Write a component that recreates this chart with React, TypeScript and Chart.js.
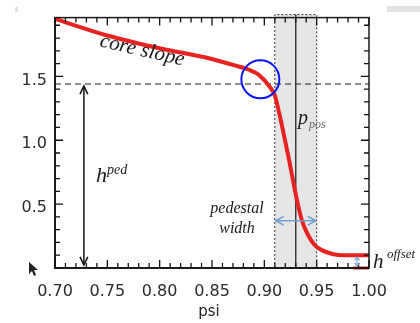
import React, { useEffect, useRef } from 'react';
import { Chart, registerables } from 'chart.js';

Chart.register(...registerables);

// ---- data ----
const psi = [0.700, 0.750, 0.800, 0.848, 0.870, 0.886, 0.895, 0.905, 0.910, 0.914, 0.919, 0.924, 0.928, 0.932, 0.936, 0.941, 0.948, 0.955, 0.965, 0.976, 1.000];
const height = [1.95, 1.82, 1.72, 1.64, 1.59, 1.55, 1.51, 1.42, 1.35, 1.22, 1.03, 0.83, 0.66, 0.50, 0.37, 0.27, 0.18, 0.14, 0.11, 0.10, 0.10];
const xTicks = [0.70, 0.75, 0.80, 0.85, 0.90, 0.95, 1.00];
const yTicks = [0.5, 1.0, 1.5];
const xMinorTicks = [0.70, 0.71, 0.72, 0.73, 0.74, 0.75, 0.76, 0.77, 0.78, 0.79, 0.80, 0.81, 0.82, 0.83, 0.84, 0.85, 0.86, 0.87, 0.88, 0.89, 0.90, 0.91, 0.92, 0.93, 0.94, 0.95, 0.96, 0.97, 0.98, 0.99, 1.00];
const yMinorTicks = [0.1, 0.2, 0.3, 0.4, 0.5, 0.6, 0.7, 0.8, 0.9, 1.0, 1.1, 1.2, 1.3, 1.4, 1.5, 1.6, 1.7, 1.8, 1.9];
const offsetBaseX = [0.985, 1.0];
const offsetBaseY = [0, 0];

const pedStart = 0.91;
const pedEnd = 0.95;
const pedPos = 0.93;
const pedTop = 1.44;
const hpedX = 0.7276;
const hOffset = 0.1;
const hOffsetX = 0.9886;
const widthArrowY = 0.37;
const kneeX = 0.8962;
const kneeY = 1.477;

const SERIF = "'Liberation Serif', 'DejaVu Serif', serif";
const SANS = "'DejaVu Sans', sans-serif";

function vHead(ctx: CanvasRenderingContext2D, x: number, y: number, ang: number, len: number, spread: number) {
  ctx.beginPath();
  ctx.moveTo(x + Math.cos(ang + spread) * len, y + Math.sin(ang + spread) * len);
  ctx.lineTo(x, y);
  ctx.lineTo(x + Math.cos(ang - spread) * len, y + Math.sin(ang - spread) * len);
  ctx.stroke();
}

function dblArrow(ctx: CanvasRenderingContext2D, x1: number, y1: number, x2: number, y2: number, len: number, spread: number) {
  ctx.beginPath();
  ctx.moveTo(x1, y1);
  ctx.lineTo(x2, y2);
  ctx.stroke();
  const a = Math.atan2(y2 - y1, x2 - x1);
  vHead(ctx, x1, y1, a, len, spread);
  vHead(ctx, x2, y2, a + Math.PI, len, spread);
}

const annotPlugin = {
  id: 'annot',
  beforeDatasetsDraw(chart: any) {
    const ctx = chart.ctx as CanvasRenderingContext2D;
    const { top, bottom } = chart.chartArea;
    const xs = chart.scales.x;
    const ys = chart.scales.y;
    const x1 = xs.getPixelForValue(pedStart);
    const x2 = xs.getPixelForValue(pedEnd);
    ctx.save();
    ctx.fillStyle = '#e6e6e6';
    ctx.fillRect(x1, top - 3, x2 - x1, bottom - top + 3);
    ctx.strokeStyle = '#333';
    ctx.lineWidth = 1;
    ctx.setLineDash([2, 2]);
    ctx.beginPath();
    ctx.moveTo(x1, bottom); ctx.lineTo(x1, top - 3); ctx.lineTo(x2, top - 3); ctx.lineTo(x2, bottom);
    ctx.stroke();
    ctx.setLineDash([]);
    // pedestal position
    const xp = xs.getPixelForValue(pedPos);
    ctx.strokeStyle = '#3a3a3a';
    ctx.lineWidth = 1.5;
    ctx.beginPath();
    ctx.moveTo(xp, top - 3); ctx.lineTo(xp, bottom);
    ctx.stroke();
    // dashed pedestal-height line
    const yd = ys.getPixelForValue(pedTop);
    ctx.strokeStyle = '#222';
    ctx.lineWidth = 1;
    ctx.setLineDash([6, 4]);
    ctx.beginPath();
    ctx.moveTo(chart.chartArea.left, yd); ctx.lineTo(chart.chartArea.right, yd);
    ctx.stroke();
    ctx.restore();
  },
  afterDatasetsDraw(chart: any) {
    const ctx = chart.ctx as CanvasRenderingContext2D;
    const { left, right, top, bottom } = chart.chartArea;
    const xs = chart.scales.x;
    const ys = chart.scales.y;
    ctx.save();
    ctx.setLineDash([]);
    // frame
    ctx.strokeStyle = '#1a1a1a';
    ctx.lineWidth = 1.5;
    ctx.strokeRect(left, top, right - left, bottom - top);
    ctx.lineWidth = 2;
    ctx.beginPath();
    ctx.moveTo(left, top); ctx.lineTo(left, bottom); ctx.lineTo(right, bottom);
    ctx.stroke();
    // ticks (minor + major), inward
    ctx.lineWidth = 1.3;
    ctx.strokeStyle = '#111';
    xMinorTicks.forEach((v, i) => {
      const px = xs.getPixelForValue(v);
      const l = i % 5 === 0 ? 8 : 5;
      ctx.beginPath();
      ctx.moveTo(px, bottom); ctx.lineTo(px, bottom - l);
      ctx.moveTo(px, top); ctx.lineTo(px, top + l);
      ctx.stroke();
    });
    yMinorTicks.forEach((v, i) => {
      const py = ys.getPixelForValue(v);
      const l = (i + 1) % 5 === 0 ? 8 : 5;
      ctx.beginPath();
      ctx.moveTo(left, py); ctx.lineTo(left + l, py);
      ctx.moveTo(right, py); ctx.lineTo(right - l, py);
      ctx.stroke();
    });

    // h_ped arrow
    const ax = xs.getPixelForValue(hpedX);
    ctx.strokeStyle = '#111';
    ctx.lineWidth = 1.5;
    dblArrow(ctx, ax, ys.getPixelForValue(pedTop) + 2, ax, bottom - 3, 9, 0.45);

    // pedestal width arrow
    const wy = ys.getPixelForValue(widthArrowY);
    ctx.strokeStyle = '#6f9fd0';
    ctx.lineWidth = 1.5;
    dblArrow(ctx, xs.getPixelForValue(pedStart) + 1, wy, xs.getPixelForValue(pedEnd) - 1, wy, 9, 0.5);

    // h_offset arrow
    const ox = xs.getPixelForValue(hOffsetX);
    ctx.strokeStyle = '#7aa6d6';
    ctx.lineWidth = 1.2;
    dblArrow(ctx, ox, ys.getPixelForValue(hOffset) + 2, ox, bottom - 2, 4, 0.7);

    // knee circle
    ctx.strokeStyle = '#0a14f0';
    ctx.lineWidth = 2;
    ctx.beginPath();
    ctx.arc(xs.getPixelForValue(kneeX), ys.getPixelForValue(kneeY), 19, 0, Math.PI * 2);
    ctx.stroke();

    // texts
    ctx.fillStyle = '#1a1a1a';
    ctx.textBaseline = 'alphabetic';
    ctx.save();
    ctx.translate(141, 56);
    ctx.rotate(13 * Math.PI / 180);
    ctx.font = `italic 21px ${SERIF}`;
    ctx.textAlign = 'center';
    ctx.fillText('core slope', 0, 0);
    ctx.restore();

    ctx.textAlign = 'left';
    ctx.font = `italic 22px ${SERIF}`;
    ctx.fillText('h', 96, 182);
    ctx.font = `italic 14px ${SERIF}`;
    ctx.fillText('ped', 107, 174);

    ctx.font = `italic 20px ${SERIF}`;
    ctx.fillText('p', 298, 124);
    ctx.fillStyle = '#666';
    ctx.font = `italic 12px ${SERIF}`;
    ctx.fillText('pos', 309, 128);

    ctx.fillStyle = '#1a1a1a';
    ctx.textAlign = 'center';
    ctx.font = `italic 16px ${SERIF}`;
    ctx.fillText('pedestal', 237, 213);
    ctx.fillText('width', 237, 233);

    ctx.textAlign = 'left';
    ctx.font = `italic 21px ${SERIF}`;
    ctx.fillText('h', 373, 268);
    ctx.font = `italic 13px ${SERIF}`;
    ctx.fillText('offset', 387, 258);

    // axis title
    ctx.textAlign = 'center';
    ctx.fillStyle = '#222';
    ctx.font = `15px ${SANS}`;
    ctx.fillText('psi', (left + right) / 2 - 3, 316);

    // screenshot artefacts: cursor and grey bars
    ctx.fillStyle = '#e2e2e2';
    ctx.fillRect(15, 7, 3, 5);
    ctx.fillRect(387, 6, 33, 6);
    ctx.fillStyle = '#222';
    ctx.beginPath();
    ctx.moveTo(29, 262); ctx.lineTo(29, 274); ctx.lineTo(32, 271); ctx.lineTo(34, 276);
    ctx.lineTo(36, 275); ctx.lineTo(34, 270); ctx.lineTo(38, 270); ctx.closePath();
    ctx.fill();
    ctx.restore();
  },
};

export default function App() {
  const ref = useRef<HTMLCanvasElement | null>(null);
  useEffect(() => {
    if (!ref.current) return;
    const chart = new Chart(ref.current, {
      type: 'line',
      data: {
        datasets: [
          {
            data: psi.map((x, i) => ({ x, y: height[i] })),
            borderColor: '#e8221e',
            borderWidth: 4,
            pointRadius: 0,
            cubicInterpolationMode: 'monotone',
            clip: 4,
          } as any,
          {
            data: offsetBaseX.map((x, i) => ({ x, y: offsetBaseY[i] })),
            borderColor: '#e8221e',
            borderWidth: 3,
            pointRadius: 0,
            clip: 4,
          } as any,
        ],
      },
      options: {
        responsive: false,
        animation: false,
        devicePixelRatio: 1,
        layout: { padding: { left: 0, right: 51, top: 14, bottom: 0 } },
        plugins: { legend: { display: false }, tooltip: { enabled: false } },
        scales: {
          x: {
            type: 'linear',
            min: 0.7,
            max: 1.0,
            afterBuildTicks: (s: any) => { s.ticks = xTicks.map((v) => ({ value: v })); },
            afterFit: (s: any) => { s.height = 55; },
            grid: { display: false, drawTicks: false },
            border: { display: false },
            ticks: {
              font: { family: SANS, size: 16 },
              color: '#2a2a2a',
              padding: 14,
              maxRotation: 0,
              autoSkip: false,
              callback: (v: any) => Number(v).toFixed(2),
            },
          },
          y: {
            type: 'linear',
            min: 0,
            max: 1.96,
            afterBuildTicks: (s: any) => { s.ticks = yTicks.map((v) => ({ value: v })); },
            afterFit: (s: any) => { s.width = 55; },
            grid: { display: false, drawTicks: false },
            border: { display: false },
            ticks: {
              font: { family: SANS, size: 16 },
              color: '#2a2a2a',
              padding: 8,
              labelOffset: 4,
              callback: (v: any) => Number(v).toFixed(1),
            },
          },
        },
      },
      plugins: [annotPlugin],
    });
    return () => chart.destroy();
  }, []);
  return (
    <div style={{ position: 'fixed', left: 0, top: 0, width: 420, height: 323, background: '#fff' }}>
      <canvas ref={ref} width={420} height={323} style={{ display: 'block' }} />
    </div>
  );
}
